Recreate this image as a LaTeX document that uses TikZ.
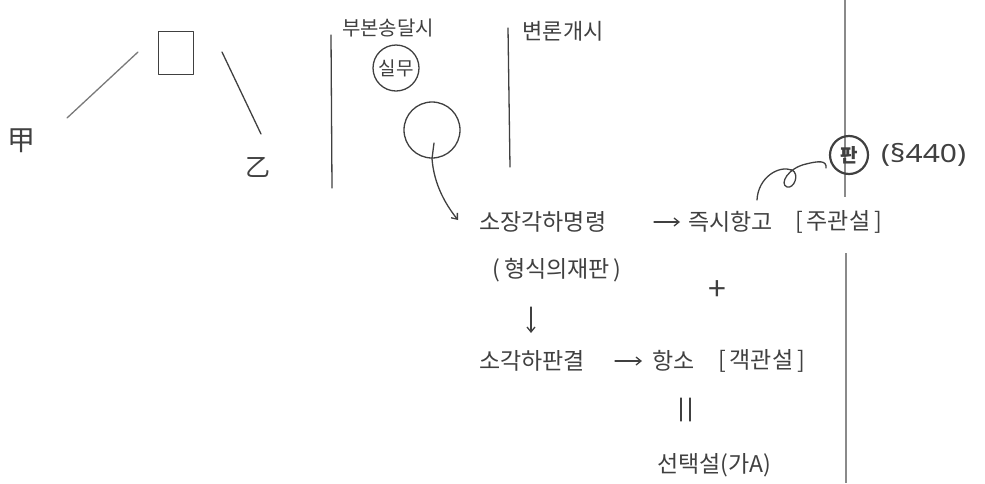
\documentclass[tikz,border=0pt]{standalone}
\usepackage{fontspec}
\newfontfamily\kr{Noto Sans CJK KR}
\newfontfamily\lat{Noto Sans}
\usetikzlibrary{arrows.meta}
\definecolor{ink}{HTML}{404040}
\definecolor{rule}{HTML}{8A8A8A}
\begin{document}
\begin{tikzpicture}[x=1pt,y=-1pt,
  txt/.style={font=\kr\fontsize{23}{23}\selectfont, text=ink, inner sep=0pt},
  small/.style={font=\kr\fontsize{19}{19}\selectfont, text=ink, inner sep=0pt},
  pen/.style={draw=ink, line width=1.3pt, line cap=round, line join=round},
  arr/.style={pen, -{Straight Barb[length=5pt,width=8pt]}},
  ruleline/.style={draw=rule, line width=1.4pt}]
\useasboundingbox (0,0) rectangle (985,483);
% left sketch
\node[txt, font=\kr\fontsize{28}{28}\selectfont] (jia) at (22,141) {甲};
\node[pen, minimum width=35pt, minimum height=43pt, inner sep=0pt] (box) at (176,53) {};
\node[txt, font=\kr\fontsize{25}{25}\selectfont] (yi) at (258,167) {乙};
\coordinate (l1a) at (67,118); \coordinate (l1b) at (138,52);
\coordinate (l2a) at (222,52); \coordinate (l2b) at (261,134);
\draw[pen, draw=ink!70] (l1a) -- (l1b);
\draw[pen] (l2a) -- (l2b);
% timeline
\node[txt, font=\kr\fontsize{20}{20}\selectfont] (fubon) at (388,28) {부본송달시};
\node[small, draw=ink, line width=1.3pt, circle, minimum size=46pt] (silmu) at (396,68) {실무};
\node[txt, font=\kr\fontsize{22}{22}\selectfont] (byeon) at (563,31) {변론개시};
\coordinate (v1a) at (331,35); \coordinate (v1b) at (332,188);
\coordinate (v2a) at (508,28); \coordinate (v2b) at (510,167);
\draw[pen] (v1a) -- (v1b);
\draw[pen] (v2a) -- (v2b);
% loop with arrow
\node[pen, circle, minimum size=56pt, inner sep=0pt] (loop) at (432,130) {};
\coordinate (tip) at (458,220);
\draw[arr] (434,143) -- (loop.south) .. controls (434,185) and (446,205) .. (tip);
% main text
\node[txt, anchor=west] (sojang) at (479,222) {소장각하명령};
\node[txt, anchor=west] (jeuksi) at (688,222) {즉시항고};
\node[txt, anchor=west] (jugwan) at (795,222) {[\,주관설\,]};
\draw[arr] ([xshift=-34pt]jeuksi.west) -- ([xshift=-8pt]jeuksi.west);
\node[txt] (hyeong) at (557,270) {(\,형식의재판\,)};
\node[txt, font=\kr\fontsize{32}{32}\selectfont] (plus) at (717,291) {+};
\coordinate (da) at (531,307); \coordinate (db) at (531,333);
\draw[arr] (da) -- (db);
\node[txt, anchor=west] (sogak) at (479,361) {소각하판결};
\node[txt, anchor=west] (hangso) at (652,361) {항소};
\node[txt, anchor=west] (gaek) at (718,361) {[\,객관설\,]};
\draw[arr] ([xshift=-37pt]hangso.west) -- ([xshift=-10pt]hangso.west);
\coordinate (e1a) at (681,398); \coordinate (e1b) at (681,421);
\coordinate (e2a) at (690,398); \coordinate (e2b) at (690,421);
\draw[pen] (e1a) -- (e1b);
\draw[pen] (e2a) -- (e2b);
\node[txt, anchor=west] (seontaek) at (657,465) {선택설(가A)};
% right margin rule
\draw[ruleline] (845,0) -- (845,197);
\draw[ruleline] (846,253) -- (846,483);
% circled pan
\node[small, font=\kr\bfseries\fontsize{19}{19}\selectfont, draw=ink, line width=2.2pt, circle, minimum size=38pt] (pan) at (849,155) {판};
\node[txt, anchor=west, font=\lat\fontsize{25}{25}\selectfont] (sec) at (881,155) {\scalebox{1.2}[1]{(§440)}};
\coordinate (cs) at (757,200);
\draw[pen] (cs) .. controls (758,178) and (778,165) .. (792,170)
  .. controls (800,174) and (794,189) .. (787,187)
  .. controls (779,184) and (788,168) .. (806,164)
  .. controls (818,161) and (827,160) .. (826,168);
\end{tikzpicture}
\end{document}
